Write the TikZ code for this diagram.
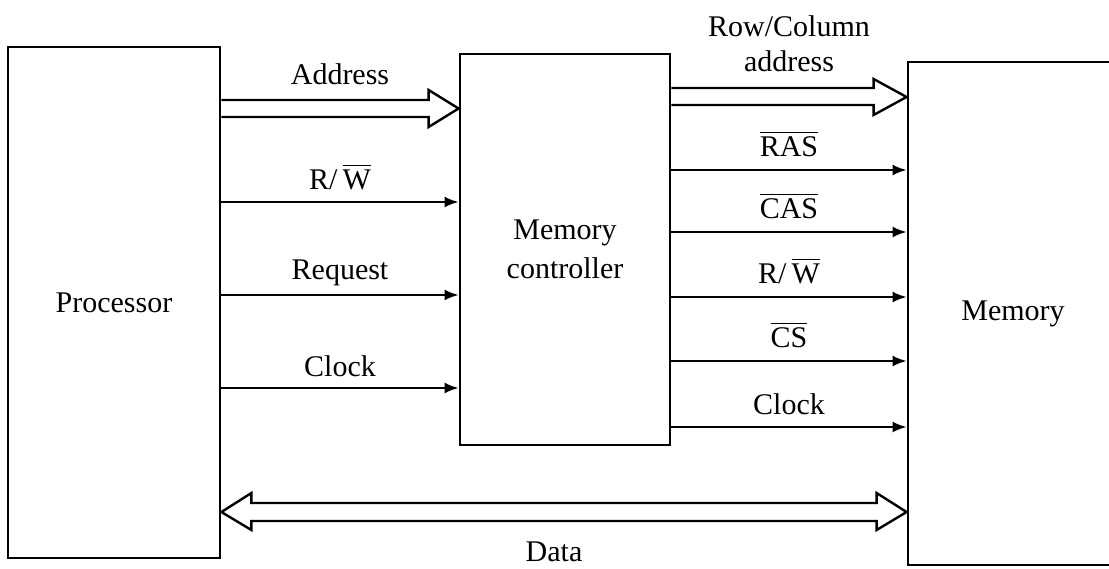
\documentclass[tikz,border=0pt]{standalone}
\usepackage{fontspec}
\setmainfont{Liberation Serif}
\usetikzlibrary{arrows.meta}
\newcommand{\ovl}[1]{\leavevmode\vbox{\hrule height 1.6pt\kern 4pt\hbox{#1}}}
\begin{document}
\begin{tikzpicture}[x=1pt,y=-1pt,
  box/.style={draw, line width=2.8pt, inner sep=0pt, font=\fontsize{30}{39}\selectfont, align=center},
  sig/.style={line width=2.2pt, -{Latex[length=14pt,width=11pt]}},
  bus/.style={line width=2.4pt, line join=miter},
  lbl/.style={font=\fontsize{30}{35}\selectfont, anchor=base, inner sep=0pt}]
\clip (0,0) rectangle (1109,569);
\fill[white] (0,0) rectangle (1109,569);
% blocks
\node[box, minimum width=212pt, minimum height=511pt] (proc) at (114,302.5) {Processor};
\node[box, minimum width=210pt, minimum height=391pt] (ctrl) at (565,249.5) {Memory\\controller};
\node[box, minimum width=210pt, minimum height=503pt] (mem) at (1013,313.5) {Memory};
% helper coordinates for hollow heads
\coordinate (ah) at ([xshift=-30pt]ctrl.west);
\coordinate (rh) at ([xshift=-33pt]mem.west);
\coordinate (dl) at ([xshift=30pt]proc.east);
\coordinate (dr) at ([xshift=-30pt]mem.west);
% Address bus
\draw[bus] (proc.east |- 0,100) -- (ah |- 0,100) -- (ah |- 0,90) -- (ctrl.west |- 0,108.5)
  -- (ah |- 0,127) -- (ah |- 0,117) -- (proc.east |- 0,117);
\path (proc.east |- 0,100) -- node[lbl, yshift=15pt] {Address} (ctrl.west |- 0,100);
% processor -> controller signals
\draw[sig] (proc.east |- 0,202) -- node[lbl, yshift=12pt] {R/\,\ovl{W}} (ctrl.west |- 0,202);
\draw[sig] (proc.east |- 0,295) -- node[lbl, yshift=15pt] {Request} (ctrl.west |- 0,295);
\draw[sig] (proc.east |- 0,388) -- node[lbl, yshift=11pt] {Clock} (ctrl.west |- 0,388);
% Row/Column address bus
\draw[bus] (ctrl.east |- 0,88) -- (rh |- 0,88) -- (rh |- 0,79) -- (mem.west |- 0,97)
  -- (rh |- 0,115) -- (rh |- 0,105) -- (ctrl.east |- 0,105);
\path (ctrl.east |- 0,88) -- node[lbl, yshift=51pt] {Row/Column} (mem.west |- 0,88);
\path (ctrl.east |- 0,88) -- node[lbl, yshift=16pt] {address} (mem.west |- 0,88);
% controller -> memory signals
\draw[sig] (ctrl.east |- 0,170) -- node[lbl, yshift=13pt] {\ovl{RAS}} (mem.west |- 0,170);
\draw[sig] (ctrl.east |- 0,232) -- node[lbl, yshift=13pt] {\ovl{CAS}} (mem.west |- 0,232);
\draw[sig] (ctrl.east |- 0,297) -- node[lbl, yshift=13pt] {R/\,\ovl{W}} (mem.west |- 0,297);
\draw[sig] (ctrl.east |- 0,361) -- node[lbl, yshift=13pt] {\ovl{CS}} (mem.west |- 0,361);
\draw[sig] (ctrl.east |- 0,427) -- node[lbl, yshift=13pt] {Clock} (mem.west |- 0,427);
% Data bus
\draw[bus] (proc.east |- 0,512) -- (dl |- 0,493) -- (dl |- 0,503) -- (dr |- 0,503) -- (dr |- 0,493)
  -- (mem.west |- 0,512) -- (dr |- 0,530) -- (dr |- 0,521) -- (dl |- 0,521) -- (dl |- 0,530) -- cycle;
\path (proc.east |- 0,521) -- node[lbl, xshift=-10pt, yshift=-40pt] {Data} (mem.west |- 0,521);
\end{tikzpicture}
\end{document}
